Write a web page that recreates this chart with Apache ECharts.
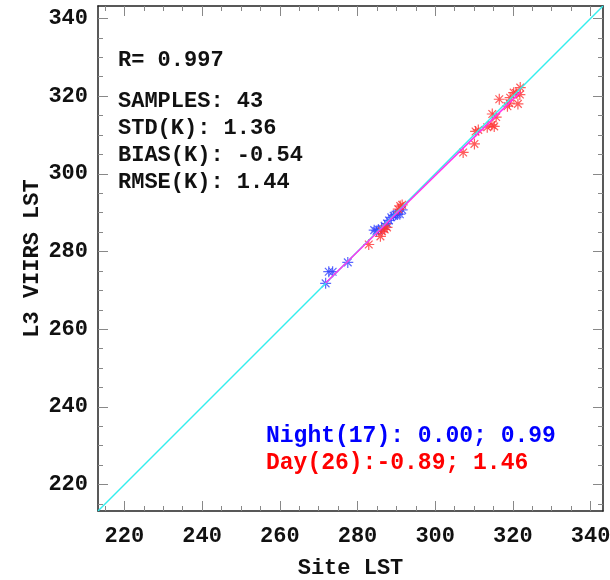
<!DOCTYPE html>
<html>
<head>
<meta charset="utf-8">
<script src="https://cdn.jsdelivr.net/npm/echarts@6/dist/echarts.min.js"></script>
<style>
  html, body { margin: 0; padding: 0; background: #fff; }
  #chart { width: 610px; height: 580px; }
</style>
</head>
<body>
<div id="chart"></div>
<script>
// Night-time matchups: [site LST, VIIRS LST] in K
const nightPoints = [
  [271.8, 271.8], [272.6, 274.8], [273.6, 274.8], [277.5, 277.2],
  [284.3, 285.5], [284.9, 285.3], [285.4, 285.6], [286.2, 285.9],
  [287.0, 286.6], [287.6, 287.2], [288.1, 288.0], [288.7, 288.8],
  [289.3, 289.2], [289.8, 289.5], [290.3, 289.6], [290.9, 289.6],
  [291.5, 290.7]
];
// Day-time matchups: [site LST, VIIRS LST] in K
const dayPoints = [
  [282.9, 281.8], [285.9, 283.9], [286.3, 285.2], [287.0, 285.7],
  [287.6, 286.2], [290.5, 290.9], [291.0, 291.7], [291.5, 292.0],
  [307.2, 305.5], [310.1, 307.7], [310.4, 310.9], [311.1, 311.3],
  [313.4, 312.0], [314.6, 312.6], [315.2, 312.2], [314.7, 315.4],
  [315.7, 314.6], [316.5, 319.2], [318.6, 317.4], [319.1, 318.2],
  [319.3, 319.6], [320.2, 320.9], [320.8, 320.8], [321.3, 318.0],
  [321.8, 320.4], [321.9, 322.2]
];
const majorTicks = [220, 240, 260, 280, 300, 320, 340];
const minorTicks = [215, 225, 230, 235, 245, 250, 255, 265, 270, 275, 285, 290, 295,
                    305, 310, 315, 325, 330, 335];
const axisMin = 213.2;
const axisMax = 343.2;

const statLines = ['R= 0.997', 'SAMPLES: 43', 'STD(K): 1.36', 'BIAS(K): -0.54', 'RMSE(K): 1.44'];
const nightLabel = 'Night(17): 0.00; 0.99';
const dayLabel = 'Day(26):-0.89; 1.46';

// least-squares fit over all matchups
const allPts = nightPoints.concat(dayPoints);
const n = allPts.length;
let sx = 0, sy = 0, sxx = 0, sxy = 0;
allPts.forEach(([x, y]) => { sx += x; sy += y; sxx += x * x; sxy += x * y; });
const slope = (n * sxy - sx * sy) / (n * sxx - sx * sx);
const icpt = (sy - slope * sx) / n;
const xs = allPts.map(p => p[0]);
const fx0 = Math.min(...xs), fx1 = Math.max(...xs);
const fitLine = [[fx0, icpt + slope * fx0], [fx1, icpt + slope * fx1]];

const FONT = '"Liberation Mono", "DejaVu Sans Mono", monospace';
const star = 'path://M0,5L10,5M5,0L5,10M1.5,1.5L8.5,8.5M1.5,8.5L8.5,1.5';

function axisSet(kind, pos, major, withLabel) {
  const ax = {
    type: 'value', position: pos, min: axisMin, max: axisMax,
    splitLine: { show: false },
    axisLine: { show: major, onZero: false, lineStyle: { color: '#222', width: 1.5 } },
    axisTick: {
      show: true, inside: true, length: major ? 10 : 5,
      customValues: major ? majorTicks : minorTicks,
      lineStyle: { color: '#888', width: 1 }
    },
    axisLabel: withLabel ? {
      show: true, customValues: majorTicks,
      fontFamily: FONT, fontWeight: 'bold', fontSize: 22, color: '#111',
      margin: kind === 'x' ? 14 : 10
    } : { show: false }
  };
  if (withLabel) {
    ax.name = kind === 'x' ? 'Site LST' : 'L3 VIIRS LST';
    ax.nameLocation = 'middle';
    ax.nameMoveOverlap = false;
    ax.nameGap = kind === 'x' ? 46 : 55;
    ax.nameTextStyle = { fontFamily: FONT, fontWeight: 'bold', fontSize: 22, color: '#111' };
  }
  return ax;
}

const graphics = statLines.map((t, i) => ({
  type: 'text', left: 118, top: (i === 0 ? 49 : 90 + (i - 1) * 27),
  style: { text: t, fontFamily: FONT, fontWeight: 'bold', fontSize: 22, fill: '#111' }
}));
graphics.push({
  type: 'text', left: 266, top: 425,
  style: { text: nightLabel, fontFamily: FONT, fontWeight: 'bold', fontSize: 23, fill: '#0000ff' }
});
graphics.push({
  type: 'text', left: 266, top: 452,
  style: { text: dayLabel, fontFamily: FONT, fontWeight: 'bold', fontSize: 23, fill: '#ff0000' }
});

const chart = echarts.init(document.getElementById('chart'), null, { renderer: 'canvas' });
chart.setOption({
  animation: false,
  backgroundColor: '#fff',
  grid: { left: 98, right: 7, top: 6, bottom: 69, containLabel: false, outerBoundsMode: 'none' },
  xAxis: [
    axisSet('x', 'bottom', true, true),
    axisSet('x', 'bottom', false, false),
    axisSet('x', 'top', true, false),
    axisSet('x', 'top', false, false)
  ],
  yAxis: [
    axisSet('y', 'left', true, true),
    axisSet('y', 'left', false, false),
    axisSet('y', 'right', true, false),
    axisSet('y', 'right', false, false)
  ],
  graphic: graphics,
  series: [
    {
      type: 'line', data: [[axisMin, axisMin], [axisMax, axisMax]],
      symbol: 'none', showSymbol: false, silent: true, clip: true,
      lineStyle: { color: '#33eeee', width: 1.5 }
    },
    {
      type: 'line', data: fitLine, symbol: 'none', showSymbol: false, silent: true,
      lineStyle: { color: '#ff33ee', width: 1.5 }
    },
    {
      type: 'scatter', data: nightPoints, symbol: star, symbolSize: 11,
      itemStyle: { color: 'rgba(0,0,0,0)', borderColor: '#3344ff', borderWidth: 1.2 }
    },
    {
      type: 'scatter', data: dayPoints, symbol: star, symbolSize: 11,
      itemStyle: { color: 'rgba(0,0,0,0)', borderColor: '#ff3333', borderWidth: 1.2 }
    }
  ]
});
</script>
</body>
</html>
